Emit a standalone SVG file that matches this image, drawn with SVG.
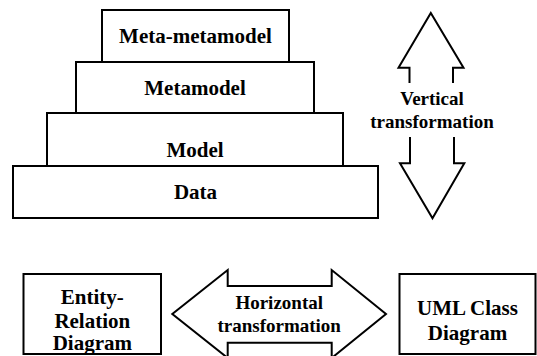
<svg xmlns="http://www.w3.org/2000/svg" width="537" height="356" viewBox="0 0 537 356">
  <style>
    .box { fill: #fff; stroke: #000; stroke-width: 2; }
    .arrow { fill: none; stroke: #000; stroke-width: 2; stroke-linejoin: miter; }
    .fat { fill: #fff; stroke: #000; stroke-width: 2; stroke-linejoin: miter; }
    .lbl { font-family: "Liberation Serif", "Times New Roman", serif; font-weight: bold; font-size: 21px; text-anchor: middle; fill: #000; }
    .sm { font-size: 19px; }
  </style>
  <rect width="537" height="356" fill="#fff"/>

  <!-- layered pyramid -->
  <g id="data">
    <rect class="box" x="13" y="166" width="365" height="52"/>
    <text class="lbl" x="195.5" y="199">Data</text>
  </g>
  <g id="model">
    <rect class="box" x="47" y="113" width="296" height="53"/>
    <text class="lbl" x="195" y="157">Model</text>
  </g>
  <g id="metamodel">
    <rect class="box" x="76" y="62" width="238" height="51"/>
    <text class="lbl" x="195" y="95">Metamodel</text>
  </g>
  <g id="meta-metamodel">
    <rect class="box" x="102" y="10" width="187" height="52"/>
    <text class="lbl" x="195.5" y="42.7">Meta-metamodel</text>
  </g>

  <!-- bottom pair -->
  <g id="er-diagram">
    <rect class="box" x="23.5" y="274" width="137.5" height="80"/>
    <text class="lbl" x="92.3" y="304">Entity-</text>
    <text class="lbl" x="92.3" y="328">Relation</text>
    <text class="lbl" x="92.3" y="350">Diagram</text>
  </g>
  <g id="uml-class-diagram">
    <rect class="box" x="399.5" y="274" width="136" height="80"/>
    <text class="lbl" x="467.5" y="315">UML Class</text>
    <text class="lbl" x="467.5" y="340">Diagram</text>
  </g>

  <g id="connectors">
    <!-- vertical double arrow, split around its label -->
    <path class="arrow" d="M409.5,83 V67.7 H398.5 L430.8,13 L463.5,67.7 H453 V83"/>
    <path class="arrow" d="M410,137 V163.3 H400 L432.5,218.3 L464.3,163.3 H454 V137"/>
    <text class="lbl sm" x="432" y="105">Vertical</text>
    <text class="lbl sm" x="432" y="128">transformation</text>

    <!-- horizontal double arrow -->
    <path class="fat" d="M227.7,286 V270 L172.3,314 L227.7,358 V342.7 H331.7 V358 L386,314 L331.7,270 V286 Z"/>
    <text class="lbl sm" x="279.2" y="309.3">Horizontal</text>
    <text class="lbl sm" x="279.2" y="331.7">transformation</text>
  </g>
</svg>
